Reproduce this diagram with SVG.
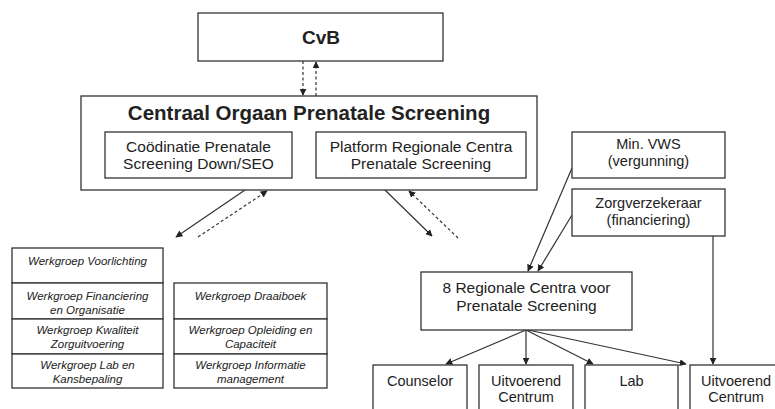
<svg xmlns="http://www.w3.org/2000/svg" width="775" height="409" viewBox="0 0 775 409">
<defs>
<style>
.b{fill:#fff;stroke:#333;stroke-width:1.3}
.t{font-family:"Liberation Sans",Arial,sans-serif;fill:#222;text-anchor:middle}
.m{font-size:15.5px}
.s{font-size:14.5px}
.w{font-size:11.5px;font-style:italic}
.h{font-weight:bold}
.c{stroke:#333;stroke-width:1.2;fill:none}
.d{stroke-dasharray:3,2.5}
</style>
<marker id="a" viewBox="0 0 10 10" refX="9" refY="5" markerWidth="7" markerHeight="7" orient="auto" markerUnits="userSpaceOnUse"><path d="M0,0 L10,5 L0,10 z" fill="#222"/></marker>
</defs>
<rect width="775" height="409" fill="#fff"/>
<g id="connectors">
<line class="c d" x1="303" y1="61" x2="303" y2="95" marker-end="url(#a)"/>
<line class="c d" x1="316" y1="96" x2="316" y2="62" marker-end="url(#a)"/>
<line class="c" x1="245" y1="190" x2="176" y2="237" marker-end="url(#a)"/>
<line class="c d" x1="198" y1="237" x2="267" y2="191" marker-end="url(#a)"/>
<line class="c" x1="385" y1="190" x2="432" y2="236" marker-end="url(#a)"/>
<line class="c d" x1="458" y1="238" x2="409" y2="191" marker-end="url(#a)"/>
<line class="c" x1="572" y1="168" x2="528" y2="271" marker-end="url(#a)"/>
<line class="c" x1="572" y1="215" x2="538" y2="271" marker-end="url(#a)"/>
<line class="c" x1="713" y1="236" x2="713" y2="364" marker-end="url(#a)"/>
<line class="c" x1="526" y1="330" x2="446" y2="364" marker-end="url(#a)"/>
<line class="c" x1="526" y1="330" x2="526" y2="364" marker-end="url(#a)"/>
<line class="c" x1="526" y1="330" x2="593" y2="364" marker-end="url(#a)"/>
<line class="c" x1="528" y1="330" x2="686" y2="364" marker-end="url(#a)"/>
</g>
<g id="cvb"><rect class="b" x="198" y="13" width="245" height="48"/><text class="t h" x="321" y="44" font-size="19">CvB</text></g>
<g id="centraal"><rect class="b" x="81" y="96" width="456" height="94"/><text class="t h" x="309" y="120" font-size="20.5">Centraal Orgaan Prenatale Screening</text></g>
<g id="coordinatie"><rect class="b" x="105" y="132" width="187" height="46"/><text class="t m" x="198.5" y="152">Coödinatie Prenatale</text><text class="t m" x="198.5" y="169">Screening Down/SEO</text></g>
<g id="platform"><rect class="b" x="316" y="132" width="210" height="46"/><text class="t m" x="421" y="152">Platform Regionale Centra</text><text class="t m" x="421" y="169">Prenatale Screening</text></g>
<g id="minvws"><rect class="b" x="572" y="132" width="153" height="46"/><text class="t s" x="648.5" y="149">Min. VWS</text><text class="t s" x="648.5" y="166">(vergunning)</text></g>
<g id="zorgverzekeraar"><rect class="b" x="572" y="189" width="153" height="47"/><text class="t s" x="648.5" y="208">Zorgverzekeraar</text><text class="t s" x="648.5" y="225">(financiering)</text></g>
<g id="regionale"><rect class="b" x="421" y="272" width="211" height="58"/><text class="t m" x="526.5" y="293">8 Regionale Centra voor</text><text class="t m" x="526.5" y="311">Prenatale Screening</text></g>
<g id="counselor"><rect class="b" x="373" y="365" width="94" height="60"/><text class="t s" x="420" y="386">Counselor</text></g>
<g id="uitvoerend1"><rect class="b" x="479" y="365" width="94" height="60"/><text class="t s" x="526" y="386">Uitvoerend</text><text class="t s" x="526" y="402">Centrum</text></g>
<g id="lab"><rect class="b" x="585" y="365" width="93" height="60"/><text class="t s" x="631.5" y="386">Lab</text></g>
<g id="uitvoerend2"><rect class="b" x="690" y="365" width="94" height="60"/><text class="t s" x="736" y="386">Uitvoerend</text><text class="t s" x="736" y="402">Centrum</text></g>
<g id="wg-voorlichting"><rect class="b" x="12" y="248" width="151" height="35"/><text class="t w" x="87.5" y="265">Werkgroep Voorlichting</text></g>
<g id="wg-financiering"><rect class="b" x="12" y="283" width="151" height="36"/><text class="t w" x="87.5" y="300">Werkgroep Financiering</text><text class="t w" x="87.5" y="314">en Organisatie</text></g>
<g id="wg-kwaliteit"><rect class="b" x="12" y="319" width="151" height="35"/><text class="t w" x="87.5" y="334">Werkgroep Kwaliteit</text><text class="t w" x="87.5" y="348">Zorguitvoering</text></g>
<g id="wg-lab"><rect class="b" x="12" y="354" width="151" height="34"/><text class="t w" x="87.5" y="369">Werkgroep Lab en</text><text class="t w" x="87.5" y="383">Kansbepaling</text></g>
<g id="wg-draaiboek"><rect class="b" x="174" y="283" width="153" height="36"/><text class="t w" x="250.5" y="300">Werkgroep Draaiboek</text></g>
<g id="wg-opleiding"><rect class="b" x="174" y="319" width="153" height="35"/><text class="t w" x="250.5" y="334">Werkgroep Opleiding en</text><text class="t w" x="250.5" y="348">Capaciteit</text></g>
<g id="wg-informatie"><rect class="b" x="174" y="354" width="153" height="34"/><text class="t w" x="250.5" y="369">Werkgroep Informatie</text><text class="t w" x="250.5" y="383">management</text></g>
</svg>
